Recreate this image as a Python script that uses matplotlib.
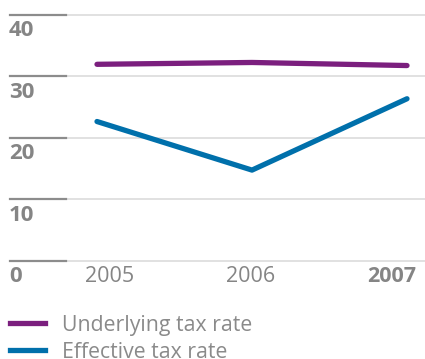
import matplotlib
matplotlib.use("Agg")
import matplotlib.pyplot as plt
from matplotlib.lines import Line2D

years = ["2005", "2006", "2007"]
underlying = [31.9, 32.2, 31.7]
effective = [22.6, 14.7, 26.3]
y_ticks = [0, 10, 20, 30, 40]
series_names = ["Underlying tax rate", "Effective tax rate"]
colors = ["#7b1f7e", "#0070ab"]

plt.rcParams['font.family'] = ['Open Sans', 'DejaVu Sans']

W, H = 425, 359
fig = plt.figure(figsize=(W / 100, H / 100), dpi=100)
ax = fig.add_axes([0, 0, 1, 1])
ax.set_axis_off()

# pixel mapping
x0_px, dx_px = 97, 155
y0_px, dy_px = 260.5, 6.15  # from top
ax.set_xlim(-x0_px / dx_px, (W - x0_px) / dx_px)
ax.set_ylim(-(H - y0_px) / dy_px, y0_px / dy_px)

gray = "#858585"
for v in y_ticks:
    ax.axhline(v, xmin=66 / W, xmax=1, color="#dedede", lw=1.3, zorder=1)
    ax.axhline(v, xmin=10 / W, xmax=66 / W, color="#8c8c8c", lw=1.6, zorder=1)
    ax.text(9 / W, v - 0.9, str(v), transform=ax.get_yaxis_transform(), ha="left", va="top",
            fontsize=16, fontweight="bold", color=gray)

xs = list(range(len(years)))
ax.plot(xs, underlying, color=colors[0], lw=3.8, solid_capstyle="round", zorder=3)
ax.plot(xs, effective, color=colors[1], lw=3.8, solid_capstyle="round", zorder=3)

label_x_px = [110, 251, 392]
for i, yr in enumerate(years):
    ax.text(label_x_px[i] / W, -0.95, yr, transform=ax.get_yaxis_transform(), ha="center", va="top",
            fontsize=15.5, color=gray, fontweight="bold" if i == len(years) - 1 else "normal")

# legend
for name, c, ypx in zip(series_names, colors, [322.5, 349.5]):
    fig.add_artist(Line2D([10 / W, 45 / W], [1 - ypx / H] * 2, color=c, lw=3.8,
                          transform=fig.transFigure))
    fig.text(62 / W, 1 - ypx / H, name, ha="left", va="center_baseline", fontsize=15.3, color="#8a8a8a")

fig.savefig("out.png", dpi=100)
